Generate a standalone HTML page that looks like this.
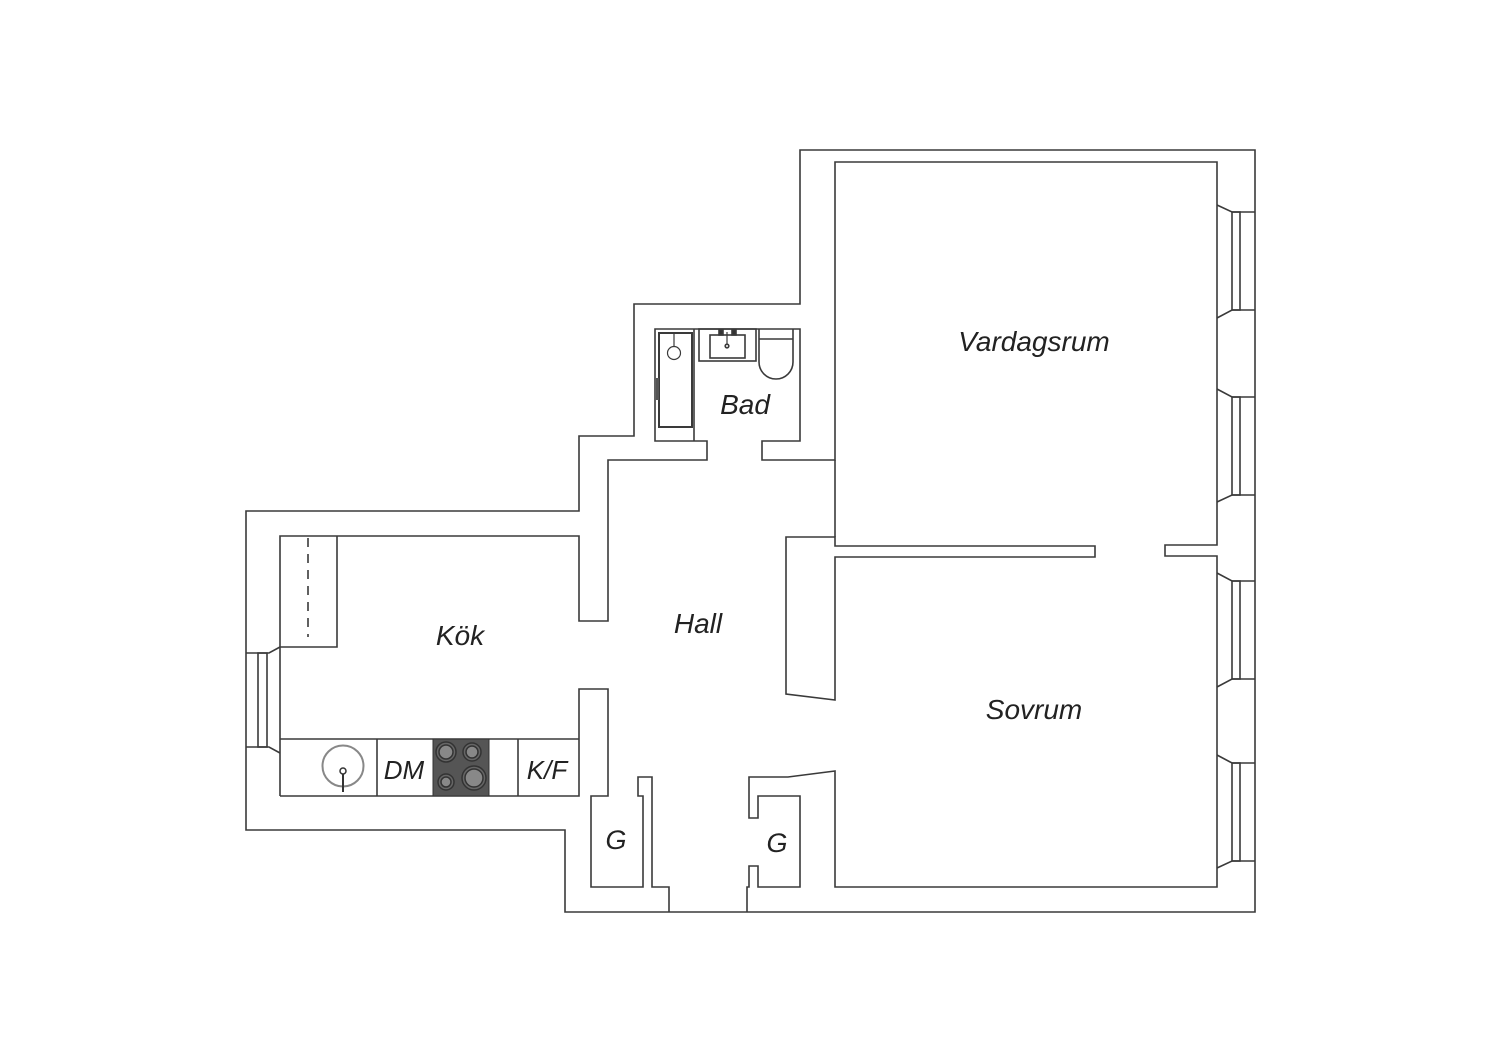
<!DOCTYPE html>
<html><head><meta charset="utf-8"><style>
html,body{margin:0;padding:0;background:#fff;}
svg{display:block}
text{font-family:"Liberation Sans",sans-serif;font-style:italic;fill:#222;}
</style></head><body>
<svg width="1500" height="1060" viewBox="0 0 1500 1060" xmlns="http://www.w3.org/2000/svg">
<g fill="none" stroke="#3a3a3a" stroke-width="1.6" stroke-linejoin="miter">
<polygon points="800,150 1255,150 1255,912 565,912 565,830 246,830 246,511 579,511 579,436 634,436 634,304 800,304"/>
<polyline points="280,796 280,536 579,536 579,621 608,621 608,460 707,460 707,441 655,441 655,329 800,329 800,441 762,441 762,460 835,460 835,162 1217,162 1217,545 1165,545 1165,556 1217,556 1217,887 835,887 835,771 788,777 749,777 749,818 758,818 758,796 800,796 800,887 758,887 758,866 749,866 749,887 747,887 747,912"/>
<polyline points="669,912 669,887 652,887 652,777 638,777 638,796 643,796 643,887 591,887 591,796 608,796 608,689 579,689 579,796 280,796"/>
<line x1="835" y1="460" x2="835" y2="537"/>
<polygon points="786,537 835,537 835,546 1095,546 1095,557 835,557 835,700 786,694"/>
<g>
<polyline points="1217,205 1232,212 1255,212"/><polyline points="1217,318 1232,310 1255,310"/><rect x="1232" y="212" width="8" height="98"/>
<polyline points="1217,389 1232,397 1255,397"/><polyline points="1217,502 1232,495 1255,495"/><rect x="1232" y="397" width="8" height="98"/>
<polyline points="1217,573 1232,581 1255,581"/><polyline points="1217,687 1232,679 1255,679"/><rect x="1232" y="581" width="8" height="98"/>
<polyline points="1217,755 1232,763 1255,763"/><polyline points="1217,868 1232,861 1255,861"/><rect x="1232" y="763" width="8" height="98"/>
</g>
<polyline points="280,647 269,653 246,653"/><polyline points="280,753 269,747 246,747"/><rect x="258" y="653" width="9" height="94"/>
<polyline points="280,647 337,647 337,536"/>
<line x1="308" y1="538" x2="308" y2="637" stroke-dasharray="9,7"/>
<line x1="280" y1="739" x2="579" y2="739"/>
<line x1="377" y1="739" x2="377" y2="796"/>
<line x1="518" y1="739" x2="518" y2="796"/>
<line x1="694" y1="329" x2="694" y2="441"/>
<rect x="659" y="333" width="33" height="94" stroke-width="2"/>
<circle cx="674" cy="353" r="6.5" stroke-width="1.2"/>
<line x1="674" y1="333" x2="674" y2="347" stroke-width="1.2"/>
<rect x="656" y="378" width="3" height="22" fill="#555" stroke="none"/>
<rect x="699" y="329" width="57" height="32"/>
<rect x="710" y="335" width="35" height="23"/>
<rect x="719" y="330" width="4" height="5" fill="#333"/><rect x="732" y="330" width="4" height="5" fill="#333"/>
<line x1="727" y1="332" x2="727" y2="345" stroke-width="1.2"/><circle cx="727" cy="346" r="1.8"/>
<path d="M759,329 V339 H793 V329 M759,339 V362 A17,17 0 0 0 793,362 V339"/>
</g>
<circle cx="343" cy="766" r="20.5" fill="none" stroke="#888" stroke-width="2"/>
<line x1="343" y1="771" x2="343" y2="792" stroke="#333" stroke-width="2"/>
<circle cx="343" cy="771" r="3" fill="#fff" stroke="#333" stroke-width="1.5"/>
<rect x="433" y="739" width="56" height="57" fill="#555" stroke="#333" stroke-width="1"/>
<g stroke="#333" stroke-width="1.5">
<circle cx="446" cy="752" r="10" fill="#666"/><circle cx="446" cy="752" r="7" fill="#888"/>
<circle cx="472" cy="752" r="9" fill="#666"/><circle cx="472" cy="752" r="6" fill="#888"/>
<circle cx="446" cy="782" r="8" fill="#666"/><circle cx="446" cy="782" r="5" fill="#888"/>
<circle cx="474" cy="778" r="12" fill="#666"/><circle cx="474" cy="778" r="9" fill="#888"/>
</g>
<text x="1034" y="351" font-size="28" text-anchor="middle">Vardagsrum</text>
<text x="745" y="414" font-size="28" text-anchor="middle">Bad</text>
<text x="460" y="645" font-size="28" text-anchor="middle">Kök</text>
<text x="698" y="633" font-size="28" text-anchor="middle">Hall</text>
<text x="1034" y="719" font-size="28" text-anchor="middle">Sovrum</text>
<text x="616" y="849" font-size="27" text-anchor="middle">G</text>
<text x="777" y="852" font-size="27" text-anchor="middle">G</text>
<text x="404" y="779" font-size="26" text-anchor="middle">DM</text>
<text x="547" y="779" font-size="26" text-anchor="middle">K/F</text>
</svg>
</body></html>
